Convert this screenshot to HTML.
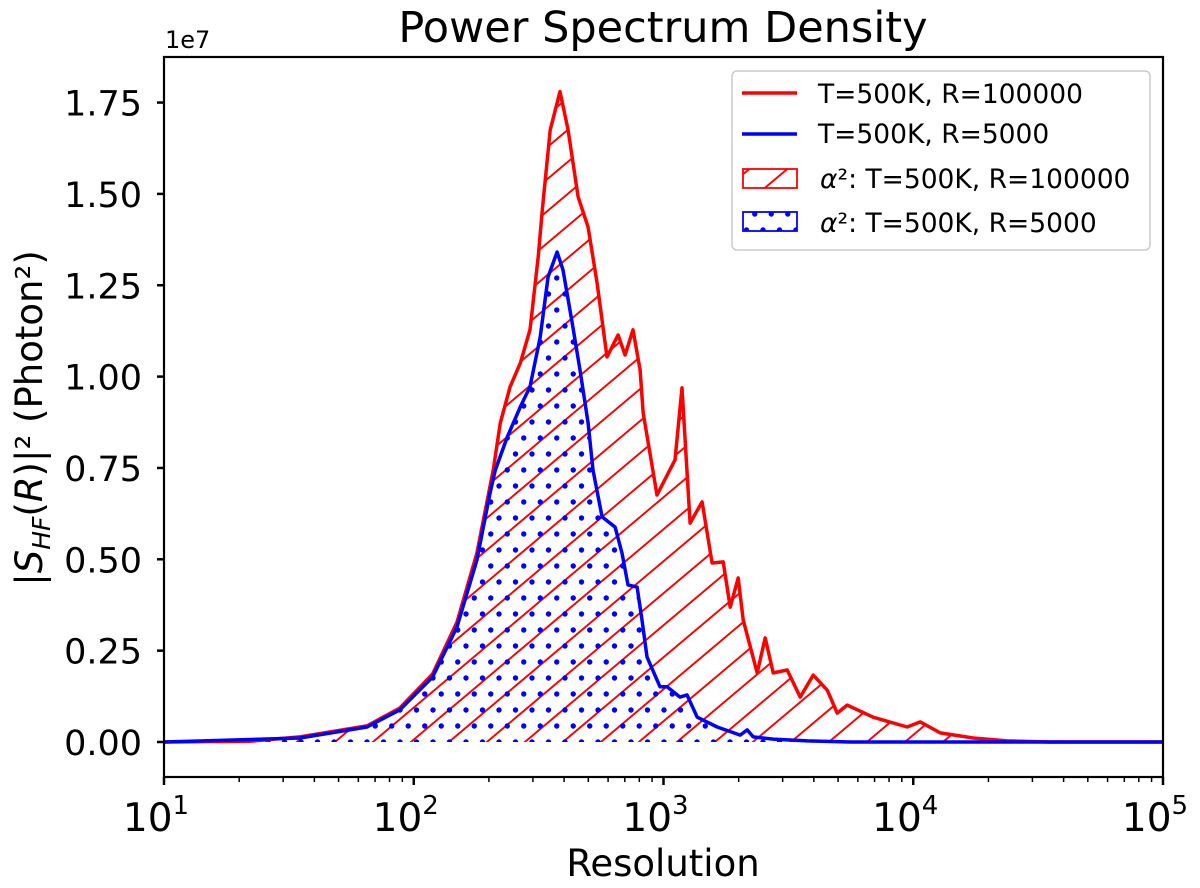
<!DOCTYPE html>
<html><head><meta charset="utf-8"><style>
body{margin:0;background:#fff}
svg text{font-family:"DejaVu Sans","Liberation Sans",sans-serif;fill:#000}
</style></head><body>
<svg id="chart" width="1200" height="883" xmlns="http://www.w3.org/2000/svg">
<defs>
<clipPath id="clip"><rect x="164" y="57" width="999" height="720"/></clipPath>
<pattern id="hatch" patternUnits="userSpaceOnUse" width="38" height="32">
<line x1="-2" y1="33.7" x2="40" y2="-1.7" stroke="#f00" stroke-width="1.9"/>
<line x1="-40" y1="33.7" x2="2" y2="-1.7" stroke="#f00" stroke-width="1.9"/>
<line x1="36" y1="33.7" x2="78" y2="-1.7" stroke="#f00" stroke-width="1.9"/>
</pattern>
<pattern id="dots" patternUnits="userSpaceOnUse" width="16.5" height="32">
<circle cx="4" cy="6" r="2.7" fill="#00f"/>
<circle cx="12.25" cy="22" r="2.7" fill="#00f"/>
</pattern>
</defs>
<text x="663" y="42" font-size="43" text-anchor="middle">Power Spectrum Density</text>
<text x="165" y="48" font-size="24">1e7</text>
<g id="plot" clip-path="url(#clip)"></g>
<rect x="164" y="57" width="999" height="720" fill="none" stroke="#000" stroke-width="2.2"/>
<g id="axes"></g>
<text x="663" y="876" font-size="37" text-anchor="middle">Resolution</text>
<text transform="translate(42,418) rotate(-90)" font-size="37" text-anchor="middle">|<tspan font-style="italic">S</tspan><tspan font-style="italic" font-size="25" dy="8">HF</tspan><tspan dy="-8">(</tspan><tspan font-style="italic">R</tspan>)|² (Photon²)</text>
<g>
<rect x="732" y="71" width="418" height="179" rx="5" fill="#fff" fill-opacity="0.85" stroke="#ccc" stroke-width="1.5"/>
<line x1="742" y1="93" x2="797" y2="93" stroke="#f00" stroke-width="3.5"/>
<text x="818" y="103" font-size="26.5">T=500K, R=100000</text>
<line x1="742" y1="134" x2="797" y2="134" stroke="#00f" stroke-width="3.5"/>
<text x="818" y="143" font-size="26.5">T=500K, R=5000</text>
<rect x="743" y="169" width="54" height="19" fill="url(#hatch)" stroke="#f00" stroke-width="1.8"/>
<text x="820" y="188" font-size="26.5"><tspan font-style="italic">α</tspan>²: T=500K, R=100000</text>
<rect x="743" y="212" width="54" height="19" fill="url(#dots)" stroke="#00f" stroke-width="1.8"/>
<text x="820" y="232" font-size="26.5"><tspan font-style="italic">α</tspan>²: T=500K, R=5000</text>
</g>
</svg>
<script>
const redR=[10,22,35,65,88,119,149,179,208,222,243,267,292,315,327,352,385,415,455,499,542,594,658,702,755,806,829,942,1112,1186,1278,1428,1566,1734,1850,1992,2085,2373,2554,2750,3128,3526,3975,4522,4959,5437,6906,9456,10660,12820,17380,23770,35300,100000];
const redV=[0,0.002,0.014,0.044,0.093,0.186,0.328,0.517,0.744,0.873,0.972,1.037,1.128,1.327,1.456,1.675,1.78,1.675,1.492,1.409,1.256,1.054,1.114,1.059,1.128,1.018,0.9,0.676,0.772,0.969,0.599,0.657,0.49,0.493,0.369,0.449,0.334,0.189,0.285,0.189,0.197,0.123,0.183,0.142,0.079,0.101,0.068,0.041,0.055,0.025,0.011,0.003,0,0];
const blueR=[10,35,65,88,119,149,179,202,212,237,267,292,321,345,375,396,431,463,499,522,568,640,682,721,784,820,859,968,1033,1164,1242,1365,1640,2028,2163,2286,2750,3758,5580,100000];
const blueV=[0,0.011,0.041,0.088,0.178,0.315,0.498,0.681,0.744,0.835,0.917,0.972,1.108,1.273,1.341,1.292,1.147,1.018,0.873,0.744,0.616,0.588,0.517,0.43,0.424,0.334,0.233,0.151,0.151,0.123,0.129,0.068,0.041,0.019,0.033,0.014,0.008,0.003,0,0];
const yTicks=[0,0.25,0.5,0.75,1.0,1.25,1.5,1.75];
const yTickLabels=["0.00","0.25","0.50","0.75","1.00","1.25","1.50","1.75"];
const xDecades=[1,2,3,4,5];

const NS='http://www.w3.org/2000/svg';
const X0=164,X1=1163,Y0=742,PXU=365.4;
function xs(r){return X0+(Math.log10(r)-1)/4*(X1-X0);}
function ys(v){return Y0-v*PXU;}
function mk(tag,attrs,parent){const e=document.createElementNS(NS,tag);for(const k in attrs)e.setAttribute(k,attrs[k]);parent.appendChild(e);return e;}
const plot=document.getElementById('plot'),axes=document.getElementById('axes');
function pts(R,V){return R.map((r,i)=>xs(r).toFixed(1)+','+ys(V[i]).toFixed(1)).join(' ');}
function area(R,V){return 'M'+xs(R[0])+','+ys(0)+' L'+pts(R,V).split(' ').join(' L')+' L'+xs(R[R.length-1])+','+ys(0)+'Z';}
let a=mk('path',{d:area(redR,redV),fill:'url(#hatch)',stroke:'none'},plot);


a=mk('path',{d:area(blueR,blueV),fill:'url(#dots)',stroke:'none'},plot);


let l=mk('polyline',{points:pts(redR,redV),fill:'none',stroke:'#f00','stroke-width':3.5,'stroke-linejoin':'round'},plot);


l=mk('polyline',{points:pts(blueR,blueV),fill:'none',stroke:'#00f','stroke-width':3.5,'stroke-linejoin':'round'},plot);


yTicks.forEach((v,i)=>{
  const y=ys(v);
  const t=mk('line',{x1:X0-7,y1:y,x2:X0,y2:y,stroke:'#000','stroke-width':2.5},axes);
  
  
  const tx=mk('text',{x:X0-22,y:y+13,'font-size':35,'text-anchor':'end'},axes);
  tx.textContent=yTickLabels[i];
  
  
});
xDecades.forEach((d)=>{
  const x=xs(Math.pow(10,d));
  const t=mk('line',{x1:x,y1:777,x2:x,y2:785,stroke:'#000','stroke-width':2.5},axes);
  
  
  const tx=mk('text',{x:x-8,y:831,'font-size':39,'text-anchor':'middle'},axes);
  tx.innerHTML='10<tspan font-size="26" dy="-17">'+d+'</tspan>';
  
  
  if(d<5){for(let m=2;m<10;m++){
    const xm=xs(m*Math.pow(10,d));
    const mt=mk('line',{x1:xm,y1:777,x2:xm,y2:782,stroke:'#000','stroke-width':1.5},axes);
    
    
  }}
});
</script>
</body></html>
